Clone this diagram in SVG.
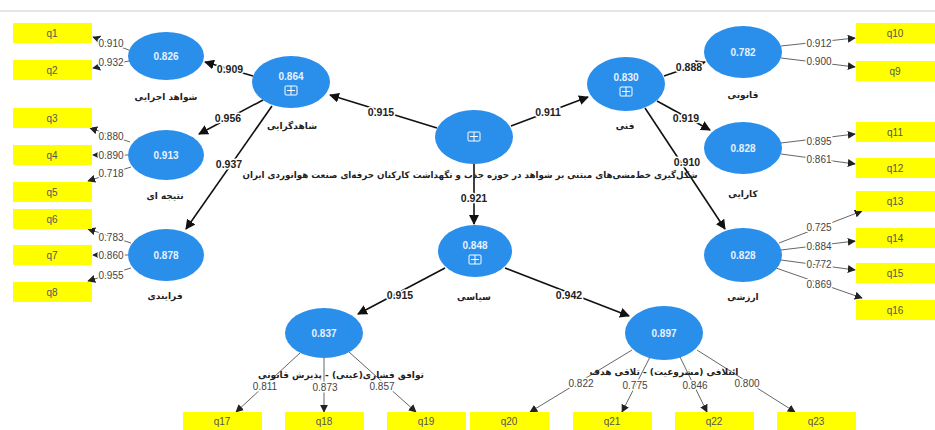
<svg xmlns="http://www.w3.org/2000/svg" width="935" height="430" viewBox="0 0 935 430">
<defs>
<marker id="ah" viewBox="0 0 10 10" refX="9" refY="5" markerWidth="10" markerHeight="10" markerUnits="userSpaceOnUse" orient="auto"><path d="M0,0 L10,5 L0,10 z" fill="#111"/></marker>
<marker id="ahs" viewBox="0 0 10 10" refX="9" refY="5" markerWidth="8" markerHeight="8" markerUnits="userSpaceOnUse" orient="auto"><path d="M0,0 L10,5 L0,10 z" fill="#222"/></marker>
</defs>
<style>
.lv{fill:#2A8EEB}
.box{fill:#FFFF00}
.val{font-family:"Liberation Sans",Arial,sans-serif;font-size:10px;font-weight:bold;fill:#E8F2FF;text-anchor:middle}
.qt{font-family:"Liberation Sans",Arial,sans-serif;font-size:10px;fill:#555;text-anchor:middle}
.nm{font-family:"DejaVu Sans",sans-serif;font-size:9px;font-weight:bold;fill:#222;text-anchor:middle}
.pc{font-family:"Liberation Sans",Arial,sans-serif;font-size:10.5px;font-weight:bold;fill:#222;text-anchor:middle;stroke:#fff;stroke-width:3px;paint-order:stroke}
.ld{font-family:"Liberation Sans",Arial,sans-serif;font-size:10px;fill:#444;text-anchor:middle;stroke:#fff;stroke-width:3px;paint-order:stroke}
.pl{stroke:#111;stroke-width:1.6;fill:none;marker-end:url(#ah)}
.ol{stroke:#555;stroke-width:0.9;fill:none;marker-end:url(#ahs)}
.ic{fill:none;stroke:#fff;stroke-width:1}
</style>
<rect x="0" y="0" width="935" height="430" fill="#fff"/>
<line x1="0" y1="11" x2="935" y2="11" stroke="#e6e6e6" stroke-width="2"/>

<g id="connectors">
<line class="pl" x1="253" y1="76" x2="205" y2="62"/>
<line class="pl" x1="263" y1="100" x2="199" y2="134"/>
<line class="pl" x1="272" y1="106" x2="186" y2="229"/>
<line class="pl" x1="437" y1="128" x2="330" y2="95"/>
<line class="pl" x1="511" y1="126" x2="588" y2="97"/>
<line class="pl" x1="474" y1="164" x2="474" y2="224"/>
<line class="pl" x1="664" y1="76" x2="705" y2="62"/>
<line class="pl" x1="657" y1="101" x2="710" y2="130"/>
<line class="pl" x1="645" y1="108" x2="725" y2="229"/>
<line class="pl" x1="445" y1="268" x2="358" y2="314"/>
<line class="pl" x1="505" y1="268" x2="629" y2="316"/>

<line class="ol" x1="129" y1="50" x2="93" y2="37"/>
<line class="ol" x1="129" y1="61" x2="93" y2="68"/>
<line class="ol" x1="130" y1="142" x2="90" y2="128"/>
<line class="ol" x1="128" y1="155" x2="93" y2="155"/>
<line class="ol" x1="131" y1="167" x2="88" y2="181"/>
<line class="ol" x1="131" y1="243" x2="88" y2="229"/>
<line class="ol" x1="128" y1="255" x2="93" y2="255"/>
<line class="ol" x1="131" y1="268" x2="88" y2="281"/>

<line class="ol" x1="781" y1="46" x2="855" y2="38"/>
<line class="ol" x1="781" y1="58" x2="855" y2="67"/>
<line class="ol" x1="781" y1="143" x2="855" y2="134"/>
<line class="ol" x1="781" y1="154" x2="855" y2="164"/>
<line class="ol" x1="779" y1="243" x2="862" y2="211"/>
<line class="ol" x1="781" y1="250" x2="855" y2="241"/>
<line class="ol" x1="781" y1="260" x2="855" y2="270"/>
<line class="ol" x1="776" y1="268" x2="862" y2="298"/>

<line class="ol" x1="300" y1="353" x2="236" y2="412"/>
<line class="ol" x1="324" y1="358" x2="324" y2="412"/>
<line class="ol" x1="349" y1="352" x2="416" y2="412"/>
<line class="ol" x1="632" y1="350" x2="530" y2="412"/>
<line class="ol" x1="650" y1="357" x2="622" y2="412"/>
<line class="ol" x1="680" y1="357" x2="707" y2="412"/>
<line class="ol" x1="697" y1="350" x2="795" y2="412"/>

<text class="pc" x="230" y="73">0.909</text>
<text class="pc" x="228" y="122">0.956</text>
<text class="pc" x="229" y="168">0.937</text>
<text class="pc" x="381" y="116">0.915</text>
<text class="pc" x="548" y="116">0.911</text>
<text class="pc" x="474" y="202">0.921</text>
<text class="pc" x="689" y="71">0.888</text>
<text class="pc" x="686" y="122">0.919</text>
<text class="pc" x="687" y="166">0.910</text>
<text class="pc" x="400" y="299">0.915</text>
<text class="pc" x="569" y="299">0.942</text>

<text class="ld" x="111" y="47">0.910</text>
<text class="ld" x="111" y="66">0.932</text>
<text class="ld" x="111" y="140">0.880</text>
<text class="ld" x="111" y="159">0.890</text>
<text class="ld" x="111" y="177">0.718</text>
<text class="ld" x="111" y="241">0.783</text>
<text class="ld" x="111" y="259">0.860</text>
<text class="ld" x="111" y="279">0.955</text>
<text class="ld" x="819" y="47">0.912</text>
<text class="ld" x="819" y="65">0.900</text>
<text class="ld" x="819" y="145">0.895</text>
<text class="ld" x="819" y="163">0.861</text>
<text class="ld" x="819" y="231">0.725</text>
<text class="ld" x="819" y="250">0.884</text>
<text class="ld" x="819" y="268">0.772</text>
<text class="ld" x="819" y="288">0.869</text>
<text class="ld" x="265" y="390">0.811</text>
<text class="ld" x="325" y="391">0.873</text>
<text class="ld" x="382" y="390">0.857</text>
<text class="ld" x="581" y="387">0.822</text>
<text class="ld" x="635" y="389">0.775</text>
<text class="ld" x="695" y="389">0.846</text>
<text class="ld" x="747" y="387">0.800</text>
</g>

<g id="center">
<ellipse class="lv" cx="474" cy="137" rx="39" ry="27"/>
<rect class="ic" x="468" y="132" width="12" height="9" rx="1"/><line class="ic" x1="474" y1="132" x2="474" y2="141"/><line class="ic" x1="470" y1="136.5" x2="478" y2="136.5"/>
<text class="nm" x="470" y="178" direction="rtl" textLength="455" lengthAdjust="spacingAndGlyphs">شکل‌گیری خط‌مشی‌های مبتنی بر شواهد در حوزه جذب و نگهداشت کارکنان حرفه‌ای صنعت هوانوردی ایران</text>
</g>

<g id="n864">
<ellipse class="lv" cx="291" cy="82" rx="39" ry="26"/>
<text class="val" x="291" y="80">0.864</text>
<rect class="ic" x="285" y="86" width="12" height="9" rx="1"/><line class="ic" x1="291" y1="86" x2="291" y2="95"/><line class="ic" x1="287" y1="90.5" x2="295" y2="90.5"/>
<text class="nm" x="292" y="129" direction="rtl">شاهدگرایی</text>
</g>
<g id="n830">
<ellipse class="lv" cx="626" cy="84" rx="39" ry="27"/>
<text class="val" x="626" y="81">0.830</text>
<rect class="ic" x="620" y="87" width="12" height="9" rx="1"/><line class="ic" x1="626" y1="87" x2="626" y2="96"/><line class="ic" x1="622" y1="91.5" x2="630" y2="91.5"/>
<text class="nm" x="625" y="129" direction="rtl">فنی</text>
</g>
<g id="n848">
<ellipse class="lv" cx="475" cy="251" rx="37" ry="26"/>
<text class="val" x="475" y="249">0.848</text>
<rect class="ic" x="469" y="255" width="12" height="9" rx="1"/><line class="ic" x1="475" y1="255" x2="475" y2="264"/><line class="ic" x1="471" y1="259.5" x2="479" y2="259.5"/>
<text class="nm" x="474" y="300" direction="rtl">سیاسی</text>
</g>

<g id="n826">
<ellipse class="lv" cx="166" cy="56" rx="38" ry="24"/>
<text class="val" x="166" y="60">0.826</text>
<text class="nm" x="166" y="100" direction="rtl">شواهد اجرایی</text>
</g>
<g id="n913">
<ellipse class="lv" cx="166" cy="155" rx="38" ry="25"/>
<text class="val" x="166" y="159">0.913</text>
<text class="nm" x="165" y="199" direction="rtl">نتیجه ای</text>
</g>
<g id="n878">
<ellipse class="lv" cx="166" cy="255" rx="38" ry="26"/>
<text class="val" x="166" y="259">0.878</text>
<text class="nm" x="165" y="299" direction="rtl">فرایندی</text>
</g>
<g id="n782">
<ellipse class="lv" cx="743" cy="52" rx="39" ry="26"/>
<text class="val" x="743" y="56">0.782</text>
<text class="nm" x="743" y="98" direction="rtl">قانونی</text>
</g>
<g id="n828a">
<ellipse class="lv" cx="743" cy="148" rx="39" ry="26"/>
<text class="val" x="743" y="152">0.828</text>
<text class="nm" x="743" y="197" direction="rtl">کارایی</text>
</g>
<g id="n828b">
<ellipse class="lv" cx="743" cy="255" rx="39" ry="27"/>
<text class="val" x="743" y="259">0.828</text>
<text class="nm" x="743" y="300" direction="rtl">ارزشی</text>
</g>
<g id="n837">
<ellipse class="lv" cx="324" cy="333" rx="39" ry="25"/>
<text class="val" x="324" y="337">0.837</text>
<text class="nm" x="341" y="378" direction="rtl">توافق فشاری(عینی) - پذیرش قانونی</text>
</g>
<g id="n897">
<ellipse class="lv" cx="664" cy="333" rx="39" ry="27"/>
<text class="val" x="664" y="337">0.897</text>
<text class="nm" x="664" y="375" direction="rtl">ائتلافی (مشروعیت) - تلاقی هدف</text>
</g>

<g id="q1"><rect class="box" x="13" y="23" width="79" height="20"/><text class="qt" x="52" y="37">q1</text></g>
<g id="q2"><rect class="box" x="13" y="60" width="79" height="20"/><text class="qt" x="52" y="74">q2</text></g>
<g id="q3"><rect class="box" x="13" y="108" width="79" height="20"/><text class="qt" x="52" y="122">q3</text></g>
<g id="q4"><rect class="box" x="13" y="145" width="79" height="20"/><text class="qt" x="52" y="159">q4</text></g>
<g id="q5"><rect class="box" x="13" y="182" width="79" height="20"/><text class="qt" x="52" y="196">q5</text></g>
<g id="q6"><rect class="box" x="13" y="209" width="79" height="20"/><text class="qt" x="52" y="223">q6</text></g>
<g id="q7"><rect class="box" x="13" y="245" width="79" height="20"/><text class="qt" x="52" y="259">q7</text></g>
<g id="q8"><rect class="box" x="13" y="282" width="79" height="20"/><text class="qt" x="52" y="296">q8</text></g>
<g id="q10"><rect class="box" x="856" y="23" width="79" height="20"/><text class="qt" x="895" y="37">q10</text></g>
<g id="q9"><rect class="box" x="856" y="61" width="79" height="20"/><text class="qt" x="895" y="75">q9</text></g>
<g id="q11"><rect class="box" x="856" y="122" width="79" height="20"/><text class="qt" x="895" y="136">q11</text></g>
<g id="q12"><rect class="box" x="856" y="158" width="79" height="20"/><text class="qt" x="895" y="172">q12</text></g>
<g id="q13"><rect class="box" x="856" y="191" width="79" height="20"/><text class="qt" x="895" y="205">q13</text></g>
<g id="q14"><rect class="box" x="856" y="228" width="79" height="20"/><text class="qt" x="895" y="242">q14</text></g>
<g id="q15"><rect class="box" x="856" y="263" width="79" height="20"/><text class="qt" x="895" y="277">q15</text></g>
<g id="q16"><rect class="box" x="856" y="300" width="79" height="20"/><text class="qt" x="895" y="314">q16</text></g>
<g id="q17"><rect class="box" x="183" y="412" width="79" height="18"/><text class="qt" x="222" y="425">q17</text></g>
<g id="q18"><rect class="box" x="285" y="412" width="79" height="18"/><text class="qt" x="324" y="425">q18</text></g>
<g id="q19"><rect class="box" x="387" y="412" width="79" height="18"/><text class="qt" x="426" y="425">q19</text></g>
<g id="q20"><rect class="box" x="470" y="412" width="79" height="18"/><text class="qt" x="509" y="425">q20</text></g>
<g id="q21"><rect class="box" x="573" y="412" width="79" height="18"/><text class="qt" x="612" y="425">q21</text></g>
<g id="q22"><rect class="box" x="675" y="412" width="79" height="18"/><text class="qt" x="714" y="425">q22</text></g>
<g id="q23"><rect class="box" x="777" y="412" width="79" height="18"/><text class="qt" x="816" y="425">q23</text></g>
</svg>
